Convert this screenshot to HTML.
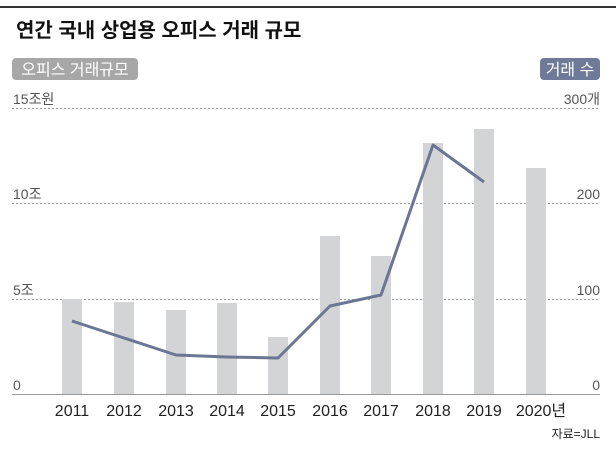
<!DOCTYPE html>
<html><head><meta charset="utf-8"><style>
body{margin:0;background:#fff;}
svg text{font-family:"Liberation Sans","Noto Sans CJK KR",sans-serif;}
</style></head><body>
<svg width="616" height="447" xmlns="http://www.w3.org/2000/svg">
<rect width="616" height="447" fill="#fff"/>
<line x1="0" y1="7" x2="616" y2="7" stroke="#333" stroke-width="2"/>
<text x="16" y="37" font-size="20" fill="#111" font-weight="bold">연간 국내 상업용 오피스 거래 규모</text>
<rect x="12" y="58" width="126" height="22" rx="4" fill="#a7a7a7"/>
<text x="75" y="75" font-size="16" fill="#fff" text-anchor="middle">오피스 거래규모</text>
<rect x="540" y="58" width="60" height="22" rx="4" fill="#6f7a99"/>
<text x="570" y="75" font-size="16" fill="#fff" text-anchor="middle">거래 수</text>
<g font-size="14" fill="#555">
<text x="13" y="104">15조원</text><text x="600" y="104" text-anchor="end">300개</text>
<text x="13" y="199">10조</text><text x="600" y="199" text-anchor="end">200</text>
<text x="13" y="295">5조</text><text x="600" y="295" text-anchor="end">100</text>
<text x="13" y="390">0</text><text x="600" y="390" text-anchor="end">0</text>
</g>
<g stroke="#999" stroke-width="1" stroke-dasharray="2,2">
<line x1="12" y1="108.5" x2="600" y2="108.5"/>
<line x1="12" y1="203.5" x2="600" y2="203.5"/>
<line x1="12" y1="299.5" x2="600" y2="299.5"/>
</g>
<g fill="#d3d4d6">
<rect x="62" y="299" width="20" height="95"/>
<rect x="114" y="302" width="20" height="92"/>
<rect x="166" y="310" width="20" height="84"/>
<rect x="217" y="303" width="20" height="91"/>
<rect x="268" y="337" width="20" height="57"/>
<rect x="320" y="236" width="20" height="158"/>
<rect x="371" y="256" width="20" height="138"/>
<rect x="423" y="143" width="20" height="251"/>
<rect x="474" y="129" width="20" height="265"/>
<rect x="526" y="168" width="20" height="226"/>
</g>
<line x1="12" y1="394.5" x2="600" y2="394.5" stroke="#999" stroke-width="1"/>
<polyline points="72,321 124,338 176,355 227,357 278,358 330,306 381,295 433,145 484,182" fill="none" stroke="#6b7694" stroke-width="3" stroke-linejoin="round"/>
<g font-size="16" fill="#222" text-anchor="middle">
<text x="72" y="416">2011</text><text x="124" y="416">2012</text><text x="176" y="416">2013</text>
<text x="227" y="416">2014</text><text x="278" y="416">2015</text><text x="330" y="416">2016</text>
<text x="381" y="416">2017</text><text x="433" y="416">2018</text><text x="484" y="416">2019</text>
<text x="541" y="416">2020년</text>
</g>
<text x="600" y="438" font-size="12" fill="#222" text-anchor="end">자료=JLL</text>
</svg>
</body></html>
